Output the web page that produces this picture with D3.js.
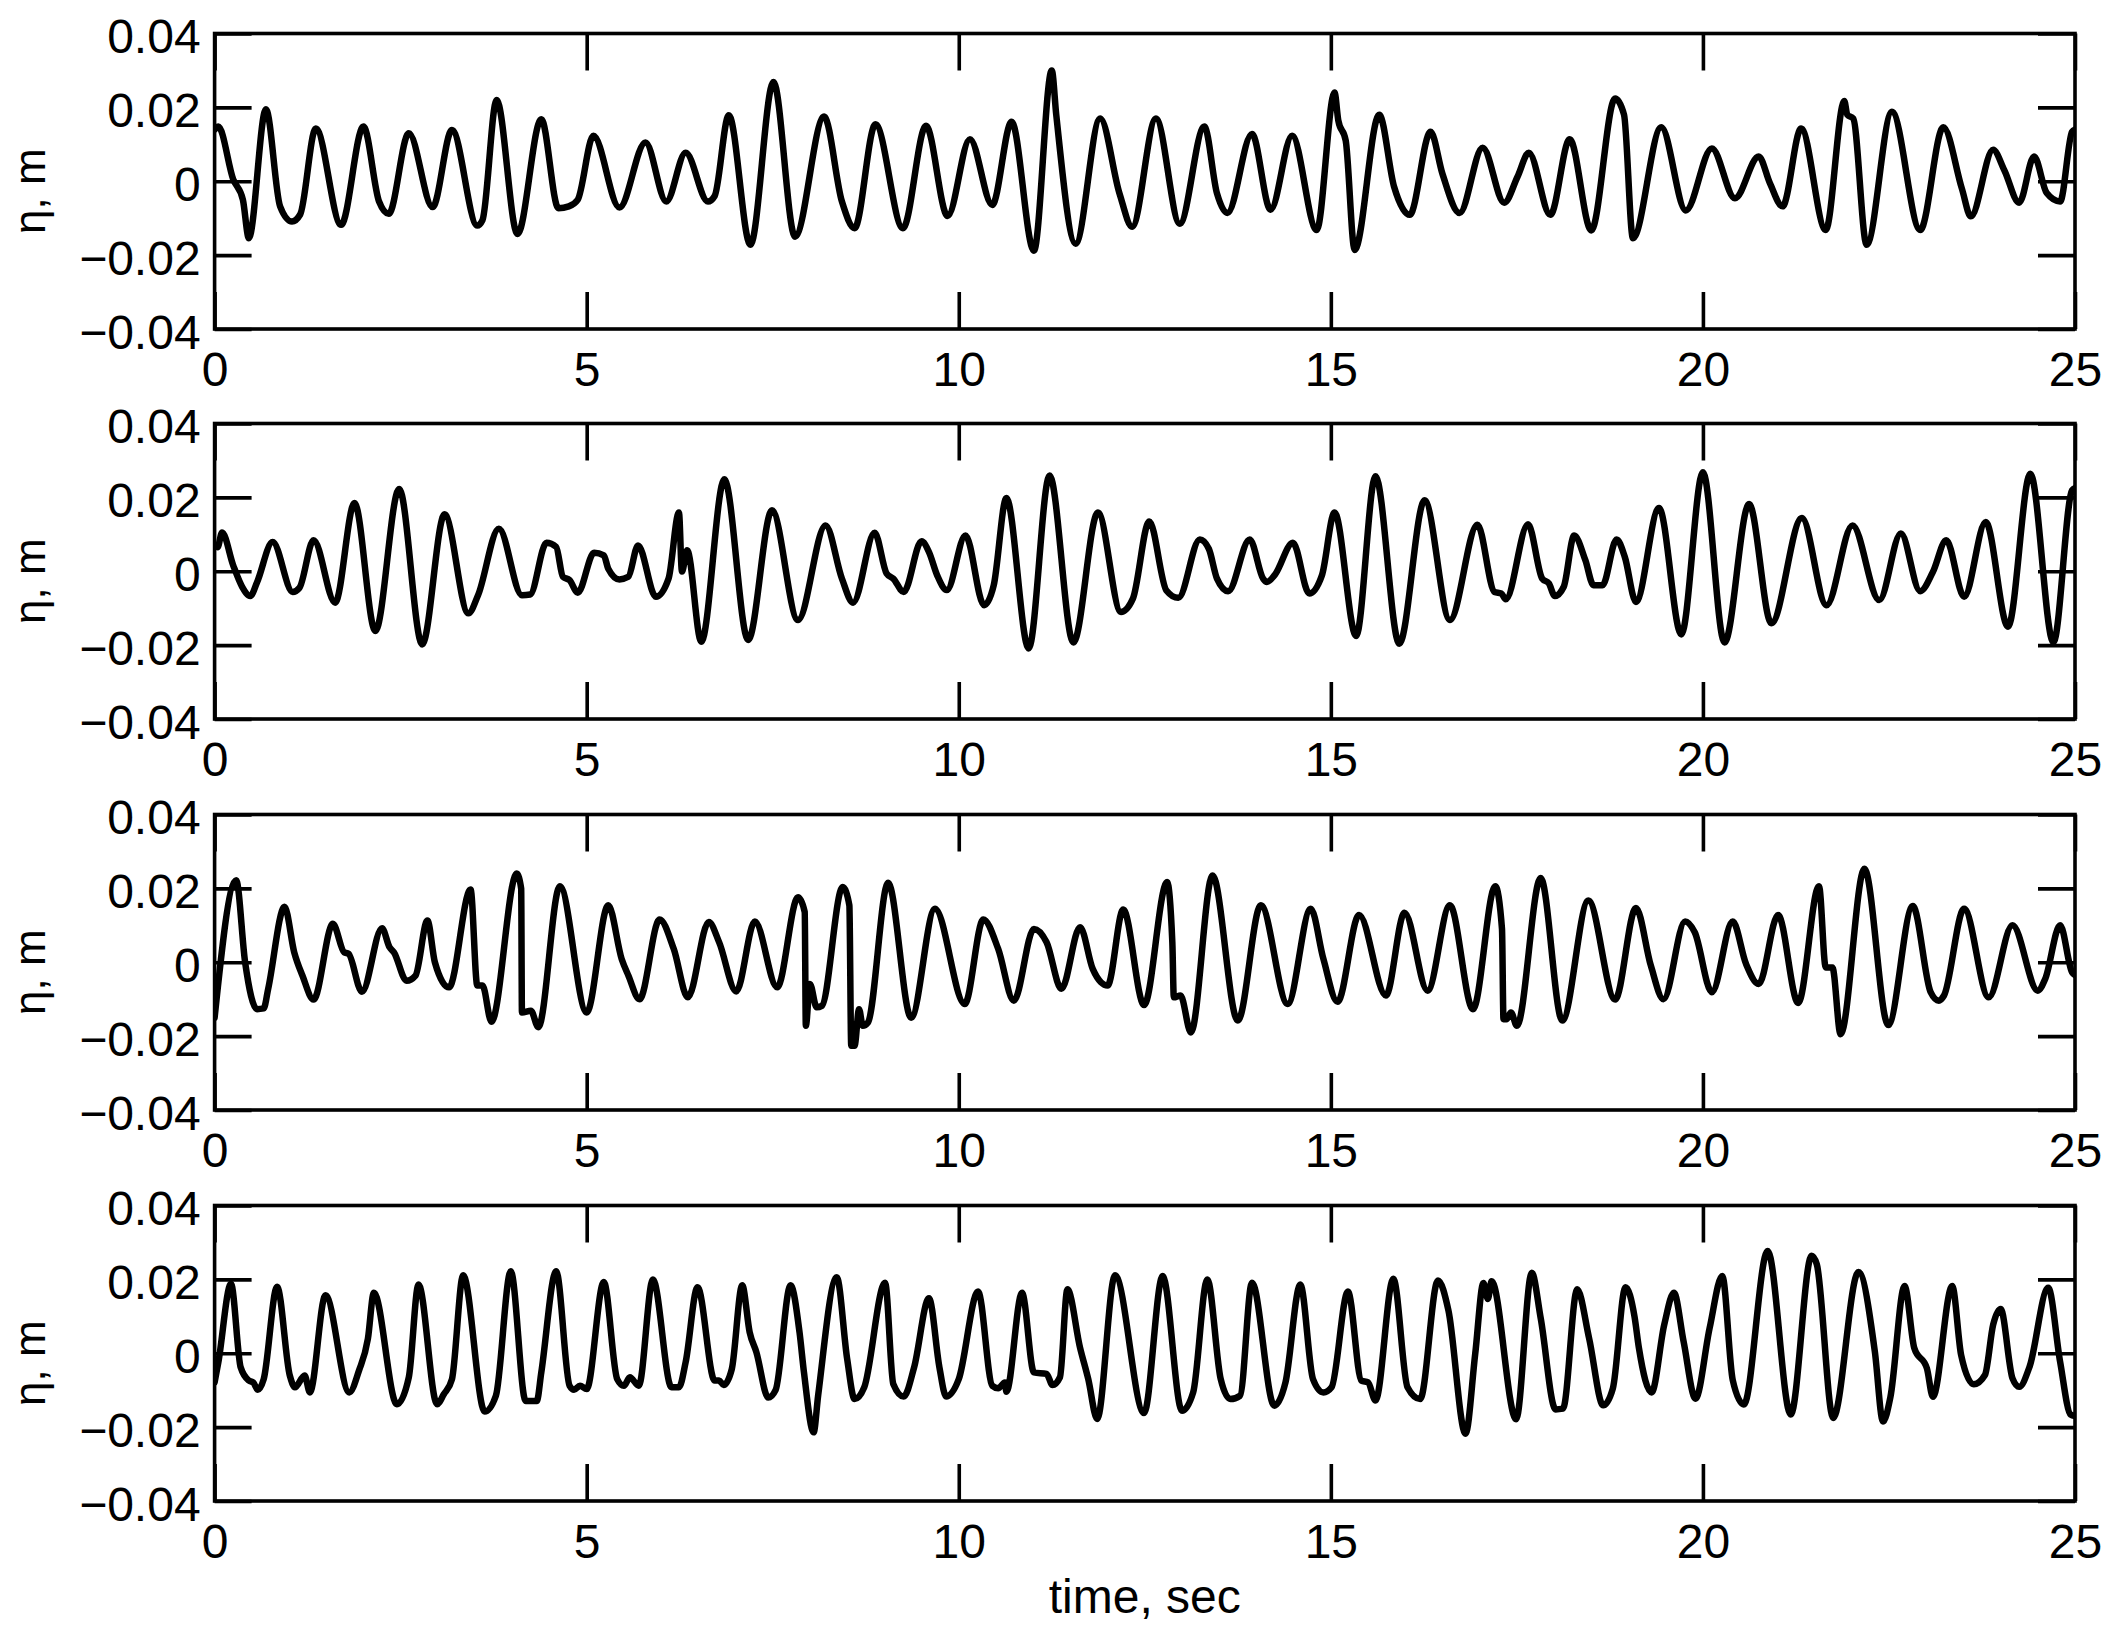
<!DOCTYPE html>
<html>
<head>
<meta charset="utf-8">
<script src="https://cdn.jsdelivr.net/npm/d3@7"></script>
<style>
  html, body { margin: 0; padding: 0; background: #fff; }
  svg { display: block; }
  text { font-family: "Liberation Sans", Arial, Helvetica, sans-serif; fill: #000; }
</style>
</head>
<body>
<svg id="chart" width="2116" height="1634"></svg>
<script>
// ---- data: [time (s), surface elevation eta (m)] ----
const gauge1 = [
  [0.0,0.0140],[0.05,0.0148],[0.25,0.0005],[0.38,-0.0050],[0.46,-0.0154],[0.69,0.0195],[0.88,-0.0068],[1.04,-0.0109],
  [1.15,-0.0090],[1.36,0.0143],[1.70,-0.0118],[2.00,0.0148],[2.21,-0.0055],[2.34,-0.0088],[2.61,0.0130],[2.93,-0.0070],
  [3.19,0.0139],[3.53,-0.0120],[3.60,-0.0105],[3.79,0.0220],[4.07,-0.0143],[4.39,0.0168],[4.62,-0.0073],[4.76,-0.0068],
  [4.88,-0.0050],[5.09,0.0123],[5.44,-0.0071],[5.79,0.0105],[6.07,-0.0055],[6.33,0.0077],[6.63,-0.0055],[6.72,-0.0040],
  [6.91,0.0179],[7.20,-0.0172],[7.51,0.0269],[7.80,-0.0150],[8.19,0.0175],[8.43,-0.0055],[8.60,-0.0127],[8.88,0.0154],
  [9.25,-0.0127],[9.56,0.0150],[9.85,-0.0094],[10.15,0.0114],[10.45,-0.0064],[10.71,0.0161],[11.01,-0.0188],[11.25,0.0300],
  [11.31,0.0180],[11.57,-0.0169],[11.90,0.0170],[12.16,-0.0033],[12.33,-0.0123],[12.65,0.0170],[12.97,-0.0115],[13.30,0.0148],
  [13.47,-0.0033],[13.61,-0.0086],[13.94,0.0128],[14.19,-0.0077],[14.48,0.0123],[14.81,-0.0132],[15.05,0.0240],[15.10,0.0165],
  [15.20,0.0110],[15.32,-0.0186],[15.65,0.0180],[15.85,-0.0015],[16.06,-0.0091],[16.34,0.0134],[16.50,0.0020],[16.73,-0.0086],
  [17.04,0.0091],[17.33,-0.0058],[17.51,0.0013],[17.66,0.0077],[17.95,-0.0091],[18.21,0.0114],[18.50,-0.0133],[18.82,0.0224],
  [18.94,0.0180],[19.06,-0.0154],[19.44,0.0146],[19.77,-0.0079],[20.12,0.0089],[20.43,-0.0046],[20.75,0.0067],[20.90,-0.0005],
  [21.07,-0.0068],[21.32,0.0143],[21.65,-0.0132],[21.90,0.0217],[21.94,0.0180],[22.02,0.0170],[22.20,-0.0172],[22.54,0.0188],
  [22.92,-0.0132],[23.23,0.0146],[23.48,-0.0020],[23.60,-0.0095],[23.90,0.0085],[24.05,0.0030],[24.25,-0.0058],[24.45,0.0067],
  [24.62,-0.0032],[24.80,-0.0055],[24.96,0.0134],[25.0,0.0140]
];
const gauge2 = [
  [0.0,0.0070],[0.04,0.0065],[0.10,0.0105],[0.25,0.0016],[0.37,-0.0042],[0.48,-0.0067],[0.57,-0.0030],[0.78,0.0079],
  [1.05,-0.0056],[1.14,-0.0045],[1.33,0.0084],[1.62,-0.0085],[1.88,0.0185],[2.16,-0.0162],[2.48,0.0223],[2.79,-0.0198],
  [3.09,0.0154],[3.41,-0.0114],[3.54,-0.0065],[3.82,0.0115],[4.13,-0.0065],[4.24,-0.0063],[4.46,0.0077],[4.59,0.0066],
  [4.68,-0.0015],[4.77,-0.0024],[4.88,-0.0058],[5.10,0.0050],[5.23,0.0043],[5.29,0.0007],[5.44,-0.0022],[5.56,-0.0015],
  [5.69,0.0070],[5.93,-0.0069],[6.10,-0.0020],[6.24,0.0159],[6.28,-0.0001],[6.35,0.0057],[6.54,-0.0191],[6.85,0.0249],
  [7.17,-0.0186],[7.49,0.0165],[7.84,-0.0132],[8.21,0.0124],[8.43,-0.0020],[8.58,-0.0085],[8.87,0.0104],[9.03,-0.0006],
  [9.12,-0.0020],[9.26,-0.0056],[9.50,0.0081],[9.60,0.0052],[9.71,-0.0011],[9.84,-0.0051],[10.09,0.0097],[10.34,-0.0092],
  [10.47,-0.0038],[10.64,0.0198],[10.94,-0.0209],[11.22,0.0259],[11.54,-0.0193],[11.87,0.0159],[12.18,-0.0110],[12.34,-0.0074],
  [12.56,0.0135],[12.79,-0.0052],[12.95,-0.0072],[13.24,0.0086],[13.36,0.0061],[13.47,-0.0020],[13.62,-0.0054],[13.91,0.0086],
  [14.09,-0.0020],[14.14,-0.0029],[14.25,-0.0009],[14.49,0.0077],[14.71,-0.0060],[14.88,-0.0011],[15.05,0.0159],[15.34,-0.0175],
  [15.60,0.0257],[15.92,-0.0196],[16.26,0.0192],[16.60,-0.0132],[16.97,0.0126],[17.20,-0.0056],[17.29,-0.0060],[17.35,-0.0076],
  [17.65,0.0127],[17.84,-0.0020],[17.93,-0.0033],[18.01,-0.0067],[18.13,-0.0042],[18.27,0.0097],[18.42,0.0030],[18.53,-0.0038],
  [18.65,-0.0038],[18.84,0.0086],[18.95,0.0039],[19.10,-0.0083],[19.41,0.0171],[19.71,-0.0171],[20.00,0.0268],[20.29,-0.0193],
  [20.62,0.0182],[20.92,-0.0141],[21.33,0.0144],[21.66,-0.0092],[22.01,0.0124],[22.37,-0.0078],[22.66,0.0102],[22.92,-0.0054],
  [23.09,-0.0002],[23.27,0.0084],[23.51,-0.0069],[23.80,0.0133],[24.10,-0.0150],[24.40,0.0264],[24.71,-0.0193],[24.96,0.0219],
  [25.0,0.0225]
];
const gauge3 = [
  [0.0,-0.0150],[0.29,0.0222],[0.41,0.0000],[0.57,-0.0127],[0.66,-0.0125],[0.72,-0.0072],[0.94,0.0150],[1.07,0.0027],
  [1.18,-0.0036],[1.33,-0.0101],[1.59,0.0104],[1.74,0.0027],[1.80,0.0023],[1.98,-0.0080],[2.25,0.0092],[2.35,0.0041],
  [2.41,0.0027],[2.58,-0.0050],[2.70,-0.0036],[2.86,0.0113],[2.96,0.0000],[3.15,-0.0068],[3.44,0.0197],[3.53,-0.0063],
  [3.60,-0.0063],[3.72,-0.0161],[4.06,0.0240],[4.12,0.0199],[4.13,-0.0136],[4.25,-0.0131],[4.35,-0.0176],[4.64,0.0206],
  [5.00,-0.0136],[5.29,0.0154],[5.47,0.0009],[5.56,-0.0036],[5.71,-0.0100],[5.98,0.0116],[6.17,0.0036],[6.36,-0.0095],
  [6.64,0.0109],[6.78,0.0054],[7.01,-0.0079],[7.26,0.0110],[7.56,-0.0068],[7.84,0.0176],[7.93,0.0136],[7.945,-0.0172],
  [8.00,-0.0059],[8.09,-0.0122],[8.16,-0.0118],[8.44,0.0204],[8.53,0.0154],[8.555,-0.0226],[8.60,-0.0226],[8.66,-0.0127],
  [8.71,-0.0172],[8.78,-0.0163],[9.05,0.0215],[9.36,-0.0150],[9.68,0.0145],[10.08,-0.0113],[10.33,0.0116],[10.53,0.0036],
  [10.74,-0.0104],[11.01,0.0090],[11.18,0.0054],[11.38,-0.0072],[11.63,0.0095],[11.80,-0.0018],[11.91,-0.0054],[12.00,-0.0063],
  [12.21,0.0143],[12.49,-0.0116],[12.80,0.0217],[12.87,0.0054],[12.89,-0.0095],[12.98,-0.0090],[13.12,-0.0190],[13.41,0.0235],
  [13.75,-0.0158],[14.06,0.0154],[14.42,-0.0113],[14.73,0.0145],[14.90,0.0009],[15.09,-0.0107],[15.38,0.0128],[15.74,-0.0090],
  [15.99,0.0134],[16.30,-0.0077],[16.60,0.0154],[16.91,-0.0127],[17.21,0.0206],[17.30,0.0090],[17.32,-0.0154],[17.36,-0.0154],
  [17.42,-0.0136],[17.50,-0.0172],[17.82,0.0228],[18.11,-0.0158],[18.46,0.0167],[18.82,-0.0101],[19.10,0.0147],[19.30,-0.0009],
  [19.47,-0.0100],[19.76,0.0110],[19.89,0.0081],[20.12,-0.0081],[20.40,0.0110],[20.58,-0.0005],[20.75,-0.0059],[21.01,0.0128],
  [21.28,-0.0110],[21.56,0.0206],[21.65,-0.0014],[21.74,-0.0014],[21.85,-0.0195],[22.17,0.0253],[22.49,-0.0170],[22.82,0.0152],
  [23.06,-0.0081],[23.17,-0.0104],[23.24,-0.0090],[23.51,0.0145],[23.84,-0.0095],[24.16,0.0100],[24.50,-0.0077],[24.60,-0.0045],
  [24.80,0.0100],[24.96,-0.0027],[25.0,-0.0035]
];
const gauge4 = [
  [0.0,-0.0079],[0.05,-0.0025],[0.22,0.0188],[0.35,-0.0038],[0.46,-0.0074],[0.52,-0.0079],[0.58,-0.0099],[0.66,-0.0070],
  [0.84,0.0180],[1.01,-0.0060],[1.08,-0.0092],[1.21,-0.0060],[1.28,-0.0106],[1.49,0.0157],[1.81,-0.0106],[1.94,-0.0047],
  [2.06,0.0039],[2.14,0.0164],[2.45,-0.0138],[2.61,-0.0065],[2.74,0.0186],[2.99,-0.0138],[3.08,-0.0111],[3.19,-0.0070],
  [3.34,0.0211],[3.63,-0.0158],[3.78,-0.0115],[3.98,0.0222],[4.18,-0.0129],[4.33,-0.0129],[4.39,-0.0052],[4.59,0.0222],
  [4.77,-0.0088],[4.83,-0.0099],[4.91,-0.0088],[5.00,-0.0097],[5.23,0.0193],[5.41,-0.0070],[5.50,-0.0088],[5.58,-0.0065],
  [5.70,-0.0088],[5.89,0.0200],[6.14,-0.0092],[6.24,-0.0092],[6.33,-0.0024],[6.49,0.0179],[6.72,-0.0074],[6.78,-0.0074],
  [6.84,-0.0086],[6.95,-0.0043],[7.09,0.0184],[7.19,0.0057],[7.28,0.0003],[7.44,-0.0120],[7.54,-0.0099],[7.74,0.0184],
  [7.86,0.0057],[7.92,-0.0052],[8.05,-0.0214],[8.11,-0.0115],[8.36,0.0206],[8.50,-0.0015],[8.60,-0.0124],[8.73,-0.0092],
  [9.01,0.0191],[9.12,-0.0083],[9.26,-0.0117],[9.40,-0.0038],[9.60,0.0149],[9.74,-0.0038],[9.83,-0.0117],[10.00,-0.0070],
  [10.26,0.0167],[10.45,-0.0088],[10.53,-0.0095],[10.62,-0.0079],[10.64,-0.0104],[10.85,0.0164],[11.01,-0.0052],[11.18,-0.0056],
  [11.26,-0.0086],[11.36,-0.0065],[11.46,0.0173],[11.63,0.0015],[11.74,-0.0070],[11.86,-0.0178],[12.10,0.0211],[12.49,-0.0162],
  [12.74,0.0209],[13.00,-0.0156],[13.15,-0.0106],[13.34,0.0200],[13.52,-0.0070],[13.65,-0.0124],[13.78,-0.0115],[13.94,0.0191],
  [14.24,-0.0142],[14.39,-0.0079],[14.59,0.0186],[14.76,-0.0070],[14.90,-0.0106],[15.01,-0.0092],[15.23,0.0167],[15.41,-0.0074],
  [15.50,-0.0079],[15.60,-0.0128],[15.84,0.0202],[16.03,-0.0092],[16.20,-0.0124],[16.44,0.0197],[16.58,0.0116],[16.81,-0.0218],
  [16.94,-0.0002],[17.05,0.0190],[17.11,0.0147],[17.16,0.0195],[17.49,-0.0179],[17.70,0.0218],[17.82,0.0095],[18.02,-0.0152],
  [18.12,-0.0150],[18.31,0.0173],[18.47,0.0041],[18.66,-0.0141],[18.79,-0.0095],[18.96,0.0179],[19.08,0.0100],[19.14,0.0014],
  [19.31,-0.0106],[19.48,0.0077],[19.61,0.0164],[19.74,0.0032],[19.90,-0.0123],[20.09,0.0068],[20.26,0.0209],[20.40,-0.0072],
  [20.55,-0.0139],[20.87,0.0277],[21.18,-0.0166],[21.46,0.0264],[21.53,0.0241],[21.75,-0.0175],[22.09,0.0220],[22.31,0.0005],
  [22.42,-0.0185],[22.52,-0.0118],[22.71,0.0182],[22.84,0.0014],[23.01,-0.0041],[23.09,-0.0118],[23.35,0.0182],[23.47,-0.0005],
  [23.64,-0.0084],[23.79,-0.0059],[23.90,0.0077],[24.00,0.0120],[24.16,-0.0068],[24.25,-0.0091],[24.39,-0.0036],[24.64,0.0177],
  [24.80,-0.0023],[24.94,-0.0166],[25.0,-0.0170]
];
const series = [gauge1, gauge2, gauge3, gauge4];

const timeDomain = [0, 25];
const etaDomain = [-0.04, 0.04];
const xTicks = [0, 5, 10, 15, 20, 25];
const yTicks = [-0.04, -0.02, 0, 0.02, 0.04];
const yLabel = "η, m";
const xLabel = "time, sec";

// ---- layout ----
const svg = d3.select("#chart");
const left = 214.6, right = 2075;
const panelTops = [33.5, 423.5, 814.5, 1205.5];
const panelH = 295.5;
const tickLen = 37;
const fontSize = 48;
const frameW = 3.6;

const x = d3.scaleLinear().domain(timeDomain).range([left, right]);
const fmtY = d => d === 0 ? "0" : d3.format(".2f")(d);

panelTops.forEach((top, i) => {
  const y = d3.scaleLinear().domain(etaDomain).range([top + panelH, top]);
  const g = svg.append("g");

  const clipId = "clip" + i;
  svg.append("clipPath").attr("id", clipId)
    .append("rect").attr("x", left).attr("y", top).attr("width", right - left).attr("height", panelH);

  // data line
  const line = d3.line().x(d => x(d[0])).y(d => y(d[1])).curve(d3.curveMonotoneX);
  g.append("path")
    .datum(series[i])
    .attr("clip-path", `url(#${clipId})`)
    .attr("fill", "none")
    .attr("stroke", "#000")
    .attr("stroke-width", 6.5)
    .attr("stroke-linejoin", "round")
    .attr("stroke-linecap", "round")
    .attr("d", line);

  // axes with inward ticks
  const styleAxis = sel => {
    sel.select(".domain").remove();
    sel.selectAll(".tick line").attr("stroke", "#000").attr("stroke-width", frameW);
    sel.selectAll(".tick text").attr("font-size", fontSize).attr("fill", "#000")
      .attr("font-family", '"Liberation Sans", Arial, Helvetica, sans-serif');
  };

  g.append("g").attr("transform", `translate(0,${top + panelH})`)
    .call(d3.axisBottom(x).tickValues(xTicks).tickFormat(d3.format("d")).tickSizeInner(-tickLen).tickSizeOuter(0).tickPadding(23))
    .call(styleAxis);
  g.append("g").attr("transform", `translate(0,${top})`)
    .call(d3.axisTop(x).tickValues(xTicks).tickFormat("").tickSizeInner(-tickLen).tickSizeOuter(0))
    .call(styleAxis);
  g.append("g").attr("transform", `translate(${left},0)`)
    .call(d3.axisLeft(y).tickValues(yTicks).tickFormat(fmtY).tickSizeInner(-tickLen).tickSizeOuter(0).tickPadding(14))
    .call(styleAxis)
    .call(s => s.selectAll(".tick text").attr("dy", "0.40em"));
  g.append("g").attr("transform", `translate(${right},0)`)
    .call(d3.axisRight(y).tickValues(yTicks).tickFormat("").tickSizeInner(-tickLen).tickSizeOuter(0))
    .call(styleAxis);

  // frame
  g.append("rect")
    .attr("x", left).attr("y", top).attr("width", right - left).attr("height", panelH)
    .attr("fill", "none").attr("stroke", "#000").attr("stroke-width", frameW);

  // y label
  g.append("text")
    .attr("transform", `translate(45,${top + panelH / 2 + 10}) rotate(-90)`)
    .attr("text-anchor", "middle")
    .attr("font-size", 44)
    .text(yLabel);
});

svg.append("text")
  .attr("x", (left + right) / 2)
  .attr("y", 1613)
  .attr("text-anchor", "middle")
  .attr("font-size", fontSize)
  .text(xLabel);
</script>
</body>
</html>
